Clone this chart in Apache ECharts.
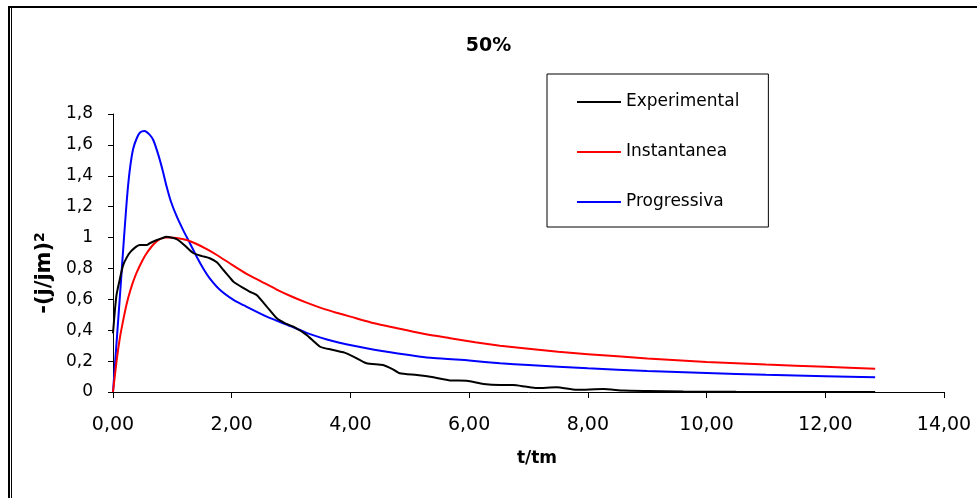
<!DOCTYPE html>
<html>
<head>
<meta charset="utf-8">
<title>50%</title>
<script src="https://cdn.jsdelivr.net/npm/echarts@6/dist/echarts.min.js"></script>
<style>
  html, body { margin: 0; padding: 0; background: #fff; }
  #chart { width: 977px; height: 498px; }
</style>
</head>
<body>
<div id="chart"></div>
<script>
// Current transient, normalised: -(j/jm)^2 against t/tm

const seriesNames = ['Experimental', 'Instantanea', 'Progressiva'];
const seriesColors = ['#000000', '#ff0000', '#0000ff'];

// Experimental
const expT = [0, 0.03, 0.06, 0.12, 0.17, 0.23, 0.29, 0.37, 0.45, 0.57, 0.62, 0.74, 0.82, 0.90, 0.98,
  1.07, 1.13, 1.22, 1.35, 1.50, 1.63, 1.75, 1.86, 1.97, 2.03, 2.20, 2.30, 2.42, 2.59, 2.76, 2.90,
  3.04, 3.26, 3.49, 3.71, 3.90, 4.05, 4.27, 4.55, 4.70, 4.83, 5.12, 5.40, 5.68, 5.96, 6.24, 6.52,
  6.74, 6.95, 7.14, 7.47, 7.81, 8.26, 8.60, 9.00, 9.61, 10.50, 11.50, 12.84];
const expV = [0.38, 0.52, 0.63, 0.74, 0.82, 0.87, 0.905, 0.935, 0.952, 0.952, 0.963, 0.984, 0.995, 1.005, 1.0,
  0.99, 0.975, 0.945, 0.90, 0.88, 0.866, 0.84, 0.79, 0.74, 0.714, 0.672, 0.65, 0.628, 0.553, 0.477, 0.445,
  0.423, 0.37, 0.293, 0.272, 0.255, 0.229, 0.186, 0.175, 0.15, 0.121, 0.11, 0.095, 0.075, 0.073, 0.052, 0.045,
  0.045, 0.035, 0.026, 0.03, 0.014, 0.019, 0.009, 0.006, 0.003, 0.001, 0, 0];

// Instantanea
const instT = [0, 0.06, 0.12, 0.18, 0.23, 0.29, 0.34, 0.40, 0.50, 0.57, 0.68, 0.79, 0.90, 0.96, 1.07,
  1.24, 1.40, 1.58, 1.75, 2.00, 2.25, 2.50, 2.75, 3.00, 3.25, 3.50, 3.75, 4.00, 4.40, 4.83, 5.25,
  5.68, 6.10, 6.52, 7.00, 7.50, 8.00, 9.00, 10.00, 11.00, 12.00, 12.84];
const instV = [0, 0.20, 0.36, 0.48, 0.57, 0.655, 0.715, 0.775, 0.855, 0.90, 0.955, 0.99, 1.0, 1.0, 0.997,
  0.984, 0.96, 0.925, 0.887, 0.825, 0.765, 0.715, 0.665, 0.62, 0.58, 0.545, 0.515, 0.488, 0.445, 0.41, 0.375,
  0.348, 0.322, 0.30, 0.28, 0.26, 0.245, 0.217, 0.195, 0.178, 0.163, 0.15];

// Progressiva
const progT = [0, 0.06, 0.12, 0.18, 0.22, 0.25, 0.29, 0.34, 0.40, 0.455, 0.53, 0.62, 0.68, 0.76, 0.84,
  0.90, 0.97, 1.07, 1.18, 1.30, 1.41, 1.52, 1.63, 1.80, 2.03, 2.20, 2.59, 3.00, 3.26, 3.70, 4.27,
  4.80, 5.40, 6.00, 6.52, 7.00, 8.00, 9.00, 10.00, 11.00, 12.00, 12.84];
const progV = [0, 0.32, 0.64, 0.97, 1.18, 1.32, 1.46, 1.575, 1.643, 1.68, 1.69, 1.665, 1.63, 1.54, 1.43,
  1.335, 1.24, 1.14, 1.05, 0.96, 0.876, 0.80, 0.736, 0.662, 0.596, 0.562, 0.488, 0.425, 0.383, 0.33, 0.283,
  0.25, 0.22, 0.204, 0.186, 0.175, 0.153, 0.136, 0.123, 0.111, 0.102, 0.095];

// Axis ticks
const xTicks = [0, 2, 4, 6, 8, 10, 12, 14];
const yTicks = [0, 0.2, 0.4, 0.6, 0.8, 1, 1.2, 1.4, 1.6, 1.8];

const pairs = (ts, vs) => ts.map((t, i) => [t, vs[i]]);
const seriesData = [pairs(expT, expV), pairs(instT, instV), pairs(progT, progV)];

const FONT = '"DejaVu Sans", "Liberation Sans", Arial, sans-serif';

const chart = echarts.init(document.getElementById('chart'), null, { renderer: 'canvas' });

chart.setOption({
  backgroundColor: '#ffffff',
  animation: false,
  title: {
    text: '50%',
    left: 'center',
    top: 32,
    textStyle: { fontFamily: FONT, fontSize: 19, fontWeight: 'bold', color: '#000' }
  },
  legend: {
    orient: 'vertical',
    left: 547,
    top: 74,
    padding: [18, 29, 15, 30],
    itemGap: 30,
    itemWidth: 44,
    itemHeight: 2,
    icon: 'rect',
    borderColor: '#000',
    borderWidth: 1,
    backgroundColor: '#fff',
    textStyle: { fontFamily: FONT, fontSize: 17, color: '#000', lineHeight: 20 },
    data: seriesNames.map((n, i) => ({ name: n, itemStyle: { color: seriesColors[i] } }))
  },
  grid: { left: 113, right: 33, top: 114, bottom: 106 },
  xAxis: {
    type: 'value',
    min: xTicks[0],
    max: xTicks[xTicks.length - 1],
    interval: xTicks[1] - xTicks[0],
    name: 't/tm',
    nameLocation: 'middle',
    nameGap: 58,
    nameTextStyle: { fontFamily: FONT, fontSize: 17, fontWeight: 'bold', color: '#000', padding: [0, 0, 0, 17] },
    axisLine: { show: true, lineStyle: { color: '#000', width: 1 } },
    axisTick: { show: true, inside: false, length: 6, lineStyle: { color: '#000' } },
    axisLabel: {
      margin: 24,
      fontFamily: FONT, fontSize: 19, color: '#000',
      formatter: v => v.toFixed(2).replace('.', ',')
    },
    splitLine: { show: false }
  },
  yAxis: {
    type: 'value',
    min: yTicks[0],
    max: yTicks[yTicks.length - 1],
    interval: 0.2,
    name: '-(j/jm){sup|2}',
    nameLocation: 'middle',
    nameRotate: 90,
    nameGap: 55,
    nameTextStyle: {
      fontFamily: FONT, fontSize: 21, fontWeight: 'bold', color: '#000',
      padding: [0, 40, 0, 0],
      rich: {
        sup: { fontFamily: FONT, fontSize: 14, fontWeight: 'bold', color: '#000', verticalAlign: 'top', padding: [0, 0, 8, 0] }
      }
    },
    axisLine: { show: true, lineStyle: { color: '#000', width: 1 } },
    axisTick: { show: true, inside: false, length: 5, lineStyle: { color: '#000' } },
    axisLabel: {
      margin: 20,
      fontFamily: FONT, fontSize: 17, color: '#000',
      formatter: v => String(+v.toFixed(1)).replace('.', ',')
    },
    splitLine: { show: false }
  },
  series: seriesNames.map((n, i) => ({
    name: n,
    type: 'line',
    data: seriesData[i],
    showSymbol: false,
    smooth: 0.2,
    clip: true,
    lineStyle: { color: seriesColors[i], width: 2 },
    itemStyle: { color: seriesColors[i] },
    z: 3 - i
  })),
  graphic: [
    // outer frame: heavy top rule and doubled left rule
    { type: 'line', shape: { x1: 8, y1: 7, x2: 977, y2: 7 }, style: { stroke: '#000', lineWidth: 2 }, silent: true },
    { type: 'line', shape: { x1: 9, y1: 6, x2: 9, y2: 498 }, style: { stroke: '#000', lineWidth: 2 }, silent: true },
    { type: 'line', shape: { x1: 11.5, y1: 8, x2: 11.5, y2: 498 }, style: { stroke: '#000', lineWidth: 1 }, silent: true }
  ]
});
</script>
</body>
</html>
